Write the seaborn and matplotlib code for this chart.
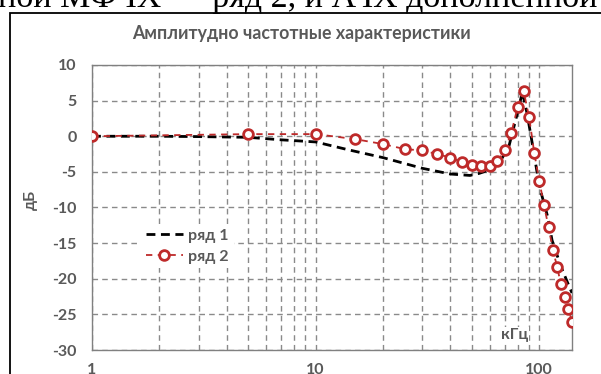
import numpy as np
import pandas as pd
import matplotlib
matplotlib.use("Agg")
import matplotlib.pyplot as plt
from matplotlib.patches import Rectangle
from matplotlib.ticker import FixedLocator, NullFormatter, FixedFormatter
import seaborn as sns

# ---- data ----
f1 = [1, 2, 3, 5, 7, 10, 14, 20, 30, 40, 49, 54, 60, 66, 73, 79, 84, 88, 93, 98,
      102, 109, 114, 125, 134, 140]
db1 = [0, 0, -0.05, -0.15, -0.5, -0.8, -1.9, -3.0, -4.5, -5.3, -5.5, -5.2, -4.7, -3.8,
       -1.5, 2.7, 6.2, 3.3, -1.0, -5.3, -8.0, -11.3, -14.6, -18.3, -20.6, -22.0]

f2 = [1, 5, 10, 15, 20, 25, 30, 35, 40, 45, 50, 55, 60, 65, 70, 75, 80, 85, 90, 95,
      100, 105, 110, 115, 120, 125, 130, 135, 140]
db2 = [0, 0.3, 0.3, -0.4, -1.1, -1.8, -2.0, -2.5, -3.0, -3.6, -4.0, -4.2, -4.2, -3.5,
       -2.0, 0.5, 4.1, 6.4, 2.7, -2.4, -6.3, -9.7, -12.8, -15.9, -18.3, -20.8, -22.5,
       -24.3, -26.0]

series_names = ["ряд 1", "ряд 2"]
title = "Амплитудно частотные характеристики"
ylabel = "дБ"
xunit = "кГц"
xticks = [1, 10, 100]
xticklabels = ["1", "10", "100"]
yticks = [10, 5, 0, -5, -10, -15, -20, -25, -30]
header_text = "ной МФЧХ — ряд 2, и АЧХ дополненной мо"

# ---- style ----
sns.set_style("white")
plt.rcParams["font.family"] = ["Lato", "DejaVu Sans"]

W, H = 601, 374
fig = plt.figure(figsize=(W / 100, H / 100), dpi=100)
ax = fig.add_axes([92 / W, 24 / H, 480 / W, 285 / H])

txt_col = "#595959"
grid_col = "#8a8a8a"
red = "#BE2A2A"

df1 = pd.DataFrame({"f": f1, "db": db1})
df2 = pd.DataFrame({"f": f2, "db": db2})

sns.lineplot(data=df1, x="f", y="db", ax=ax, color="black", linewidth=2.0,
             label=series_names[0], zorder=3)
sns.lineplot(data=df2, x="f", y="db", ax=ax, color=red, linewidth=1.3,
             marker="o", markersize=7, markerfacecolor="white",
             markeredgecolor=red, markeredgewidth=2.0,
             label=series_names[1], zorder=4)
ax.lines[0].set_dashes([3.2, 2.0])
ax.lines[1].set_dashes([3.5, 3.0])

ax.set_xscale("log")
ax.set_xlim(1, 140)
ax.set_ylim(-30, 10)

minor = [m * d for d in (1, 10, 100) for m in range(2, 10) if m * d < 140]
ax.xaxis.set_major_locator(FixedLocator(xticks))
ax.xaxis.set_major_formatter(FixedFormatter(xticklabels))
ax.xaxis.set_minor_locator(FixedLocator(minor))
ax.xaxis.set_minor_formatter(NullFormatter())
ax.set_yticks(yticks)
ax.set_yticklabels([str(v) for v in yticks])

ax.grid(True, which="both", axis="x", color=grid_col, linestyle=(0, (4, 3)), linewidth=1.0)
ax.grid(True, which="major", axis="y", color=grid_col, linestyle=(0, (4, 3)), linewidth=1.0)
ax.set_axisbelow(True)

for s in ax.spines.values():
    s.set_color("#808080")
    s.set_linewidth(1.0)

ax.tick_params(axis="both", which="both", length=0, labelcolor=txt_col, labelsize=11.5)
ax.tick_params(axis="y", pad=11)
ax.tick_params(axis="x", pad=9)
for lab in ax.get_xticklabels() + ax.get_yticklabels():
    lab.set_fontweight("bold")

ax.set_xlabel("")
ax.set_ylabel("")
fig.text(31 / W, 1 - 200 / H, ylabel, rotation=90, ha="center", va="center",
         color=txt_col, fontsize=11.5, fontweight="bold")

fig.text(302 / W, 1 - 33 / H, title, ha="center", va="center",
         color=txt_col, fontsize=12.8, fontweight="bold")

ax.text((515 - 92) / 480, (350 - 335) / 285, xunit, transform=ax.transAxes,
        ha="center", va="center", color=txt_col, fontsize=11.5, fontweight="bold",
        bbox=dict(facecolor="white", edgecolor="none", pad=0.5), zorder=5)

leg = ax.legend(loc="upper left", bbox_to_anchor=((133 - 92) / 480, (350 - 216) / 285),
                frameon=True, fancybox=False, framealpha=1.0, edgecolor="none",
                facecolor="white", fontsize=11.5, handlelength=2.3, handletextpad=0.35,
                labelspacing=0.4, borderpad=0.3, numpoints=1)
for t in leg.get_texts():
    t.set_color(txt_col)
    t.set_fontweight("bold")
leg.set_zorder(6)

# header text from the document, clipped at the top
fig.text(-2 / W, 1 - 7 / H, header_text, ha="left", va="baseline",
         fontsize=24.5, color="black", family=["Liberation Serif", "DejaVu Serif"])

# outer chart frame
fig.add_artist(Rectangle((10 / W, -0.1), 1.2, (1 - 13 / H) + 0.1,
                         transform=fig.transFigure, fill=False,
                         edgecolor="black", linewidth=1.3))

fig.savefig("out.png", dpi=100)
